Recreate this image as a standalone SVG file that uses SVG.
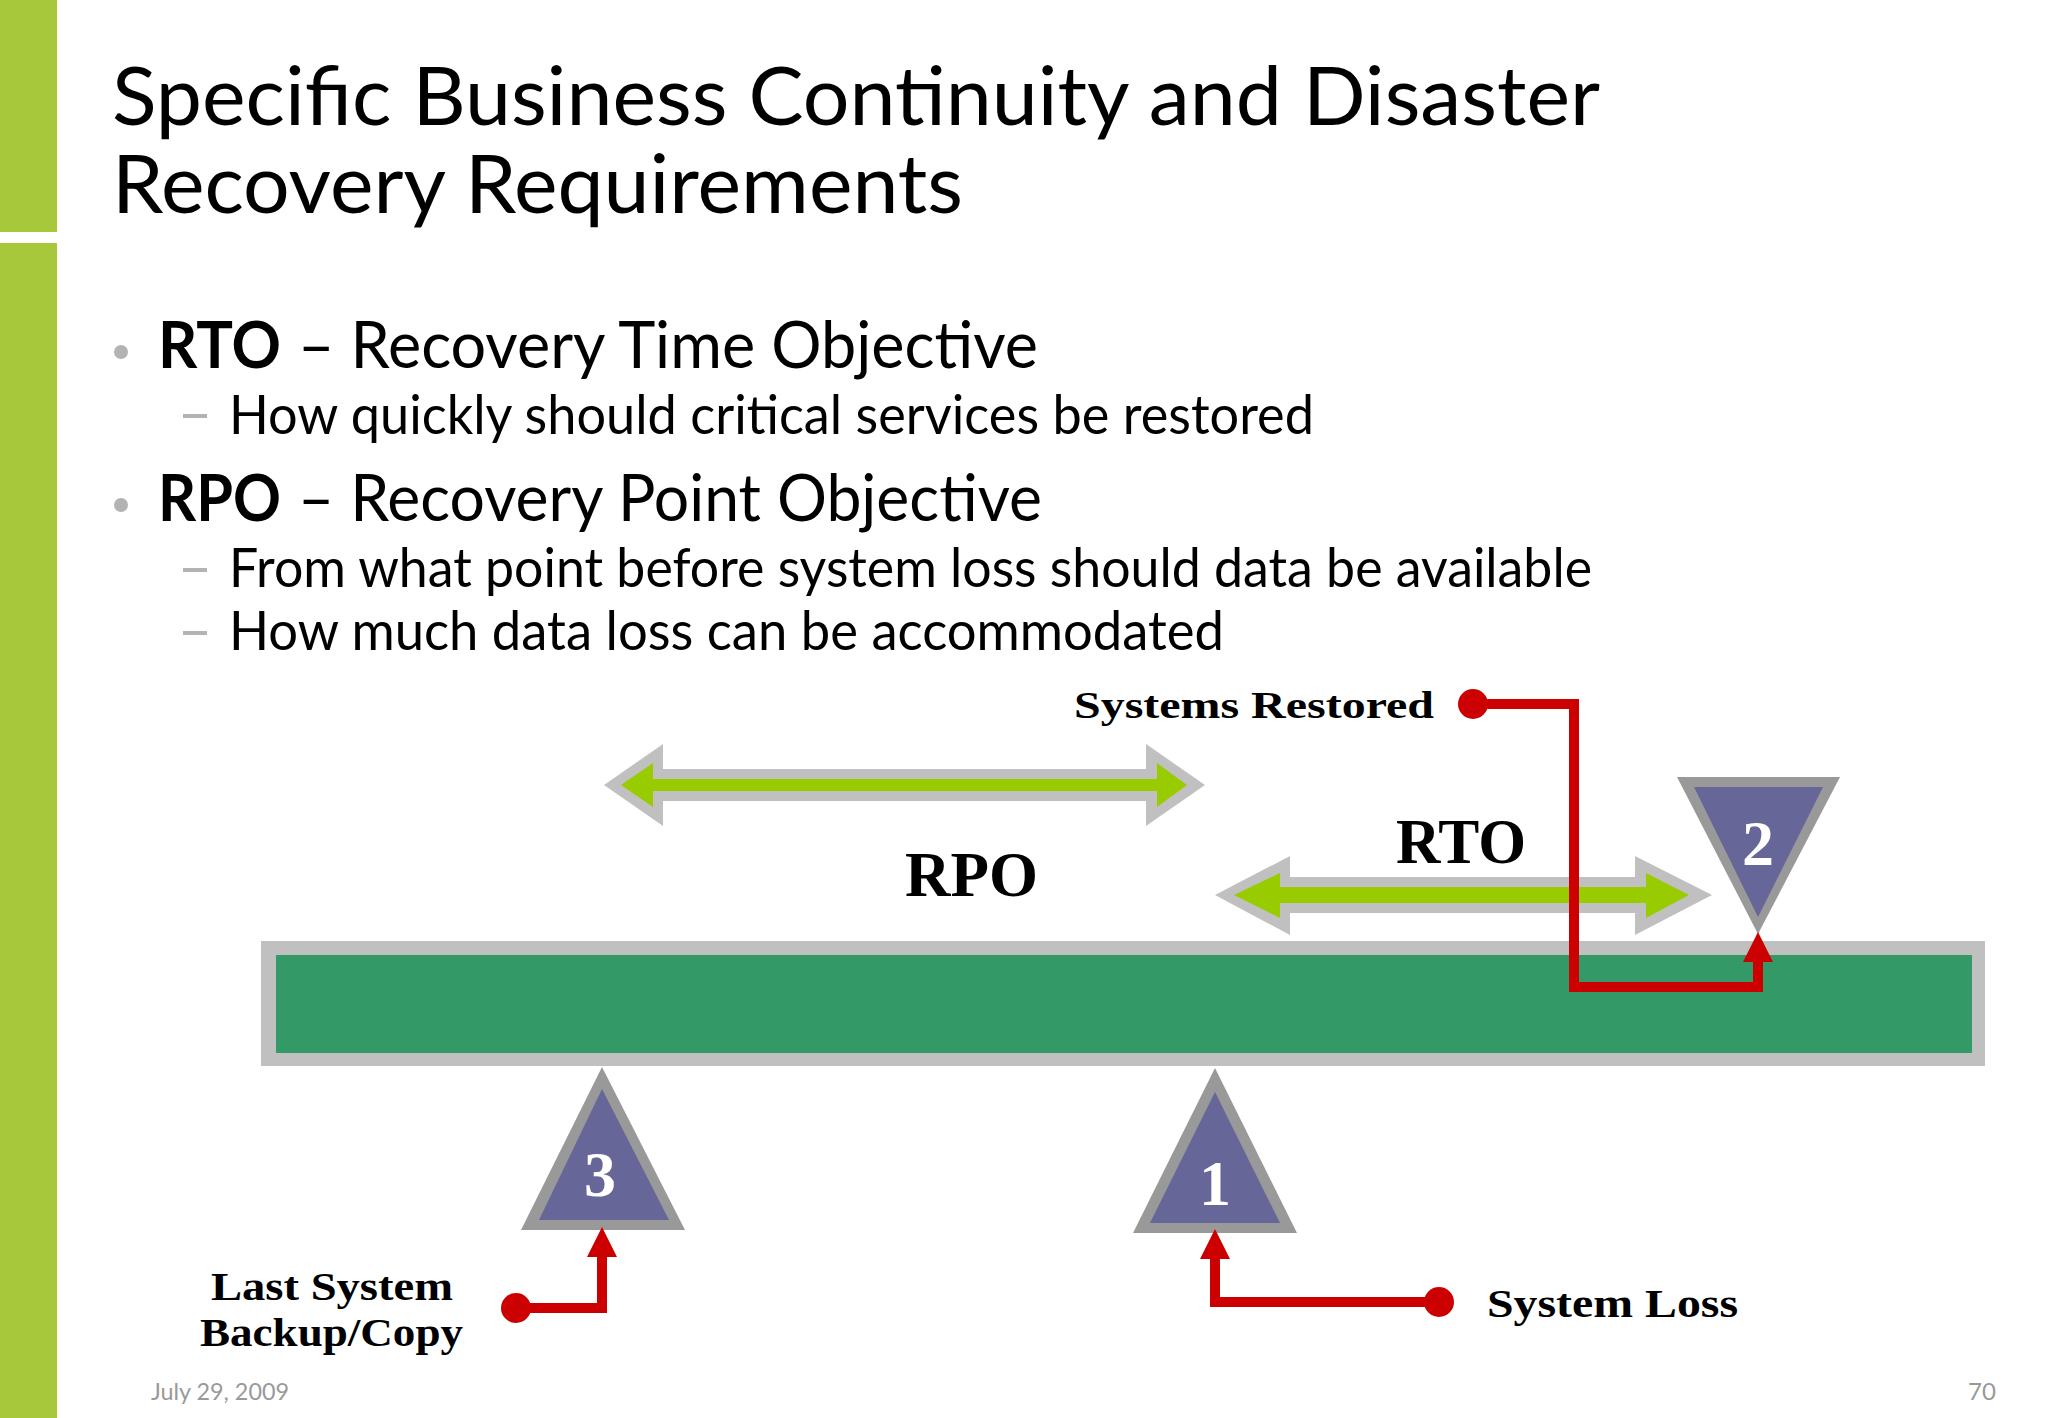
<svg xmlns="http://www.w3.org/2000/svg" width="2048" height="1418" viewBox="0 0 2048 1418">
<style>
.title{font-family:Lato,"Open Sans","Liberation Sans",sans-serif;font-size:82px;fill:#000}
.b1{font-family:Lato,"Open Sans","Liberation Sans",sans-serif;font-size:65px;fill:#000}
.b1b{font-family:Lato,"Open Sans","Liberation Sans",sans-serif;font-size:65px;font-weight:bold;fill:#000}
.b2{font-family:Lato,"Open Sans","Liberation Sans",sans-serif;font-size:54px;fill:#000}
.lbl{font-family:"Liberation Serif","Times New Roman",serif;font-weight:bold;fill:#000}
.num{font-family:"Liberation Serif","Times New Roman",serif;font-weight:bold;font-size:64px;fill:#fff;text-anchor:middle}
.foot{font-family:Lato,"Open Sans","Liberation Sans",sans-serif;font-size:24px;fill:#999}
.dot{fill:#b3b3b3}
.dash{fill:#b3b3b3}
.tri-o{fill:#999999}
.tri-i{fill:#666699}
.arr-o{fill:#c0c0c0}
.arr-i{fill:#99cc00}
.conn{fill:none;stroke:#cc0000;stroke-width:10;stroke-linejoin:miter}
.cdot{fill:#cc0000}
</style>
<defs>
<marker id="ah" viewBox="0 0 10 10" refX="0" refY="5" markerWidth="3" markerHeight="3" markerUnits="strokeWidth" orient="auto">
<path d="M0,0 L10,5 L0,10 z" fill="#cc0000"/>
</marker>
</defs>
<rect width="2048" height="1418" fill="#ffffff"/>
<g id="sidebar">
<rect x="0" y="0" width="57" height="232" fill="#a6c83a"/>
<rect x="0" y="243" width="57" height="1175" fill="#a6c83a"/>
</g>
<g id="title">
<text class="title" x="112" y="125" textLength="1488" lengthAdjust="spacingAndGlyphs">Specific Business Continuity and Disaster</text>
<text class="title" x="112" y="213" textLength="851" lengthAdjust="spacingAndGlyphs">Recovery Requirements</text>
</g>
<g id="bullets">
<circle class="dot" cx="121" cy="352" r="7"/>
<text class="b1b" x="158" y="368" textLength="123" lengthAdjust="spacingAndGlyphs">RTO</text>
<text class="b1" x="298" y="368" textLength="740" lengthAdjust="spacingAndGlyphs">– Recovery Time Objective</text>
<rect class="dash" x="183" y="414" width="24" height="4"/>
<text class="b2" x="229" y="434" textLength="1085" lengthAdjust="spacingAndGlyphs">How quickly should critical services be restored</text>
<circle class="dot" cx="121" cy="505" r="7"/>
<text class="b1b" x="158" y="521" textLength="123" lengthAdjust="spacingAndGlyphs">RPO</text>
<text class="b1" x="298" y="521" textLength="744" lengthAdjust="spacingAndGlyphs">– Recovery Point Objective</text>
<rect class="dash" x="183" y="568" width="24" height="4"/>
<text class="b2" x="229" y="587" textLength="1363" lengthAdjust="spacingAndGlyphs">From what point before system loss should data be available</text>
<rect class="dash" x="183" y="631" width="24" height="4"/>
<text class="b2" x="229" y="650" textLength="995" lengthAdjust="spacingAndGlyphs">How much data loss can be accommodated</text>
</g>
<g id="timeline">
<rect x="261" y="941" width="1724" height="125" fill="#c0c0c0"/>
<rect x="276" y="955" width="1696" height="98" fill="#339966"/>
</g>
<g id="rpo-arrow">
<polygon class="arr-o" points="604,785 663,744 663,769 1146,769 1146,744 1205,785 1146,826 1146,801 663,801 663,826"/>
<polygon class="arr-i" points="621,785 653,763 653,779 1157,779 1157,763 1187,785 1157,807 1157,791 653,791 653,807"/>
<text class="lbl" x="905" y="896" font-size="64" textLength="133" lengthAdjust="spacingAndGlyphs">RPO</text>
</g>
<g id="rto-arrow">
<polygon class="arr-o" points="1215,895 1290,856 1290,877 1635,877 1635,856 1712,895 1635,935 1635,913 1290,913 1290,935"/>
<polygon class="arr-i" points="1234,895 1280,873 1280,887 1646,887 1646,873 1689,895 1646,918 1646,903 1280,903 1280,918"/>
<text class="lbl" x="1396" y="863" font-size="64" textLength="130" lengthAdjust="spacingAndGlyphs">RTO</text>
</g>
<g id="node-1">
<polygon class="tri-o" points="1215,1068 1297,1233 1133,1233"/>
<polygon class="tri-i" points="1215,1092 1280,1223 1150,1223"/>
<text class="num" x="1215" y="1205">1</text>
</g>
<g id="node-2">
<polygon class="tri-o" points="1677,777 1840,777 1758,934"/>
<polygon class="tri-i" points="1694,787 1823,787 1758,917"/>
<text class="num" x="1758" y="865">2</text>
</g>
<g id="node-3">
<polygon class="tri-o" points="602,1067 685,1230 521,1230"/>
<polygon class="tri-i" points="602,1089 669,1220 539,1220"/>
<text class="num" x="600" y="1196">3</text>
</g>
<g id="labels">
<text class="lbl" x="1074" y="718" font-size="38" textLength="360" lengthAdjust="spacingAndGlyphs">Systems Restored</text>
<text class="lbl" x="1487" y="1317" font-size="40" textLength="251" lengthAdjust="spacingAndGlyphs">System Loss</text>
<text class="lbl" x="211" y="1300" font-size="40" textLength="242" lengthAdjust="spacingAndGlyphs">Last System</text>
<text class="lbl" x="200" y="1346" font-size="40" textLength="263" lengthAdjust="spacingAndGlyphs">Backup/Copy</text>
</g>
<g id="connectors">
<path class="conn" d="M1473,704 H1574 V987 H1758 V962" marker-end="url(#ah)"/>
<circle class="cdot" cx="1473" cy="704" r="15"/>
<path class="conn" d="M1439,1302 H1215 V1259" marker-end="url(#ah)"/>
<circle class="cdot" cx="1439" cy="1302" r="15"/>
<path class="conn" d="M516,1308 H602 V1257" marker-end="url(#ah)"/>
<circle class="cdot" cx="516" cy="1308" r="15"/>
</g>
<g id="footer">
<text class="foot" x="151" y="1400" textLength="138" lengthAdjust="spacingAndGlyphs">July 29, 2009</text>
<text class="foot" x="1968" y="1400" textLength="28" lengthAdjust="spacingAndGlyphs">70</text>
</g>
</svg>
